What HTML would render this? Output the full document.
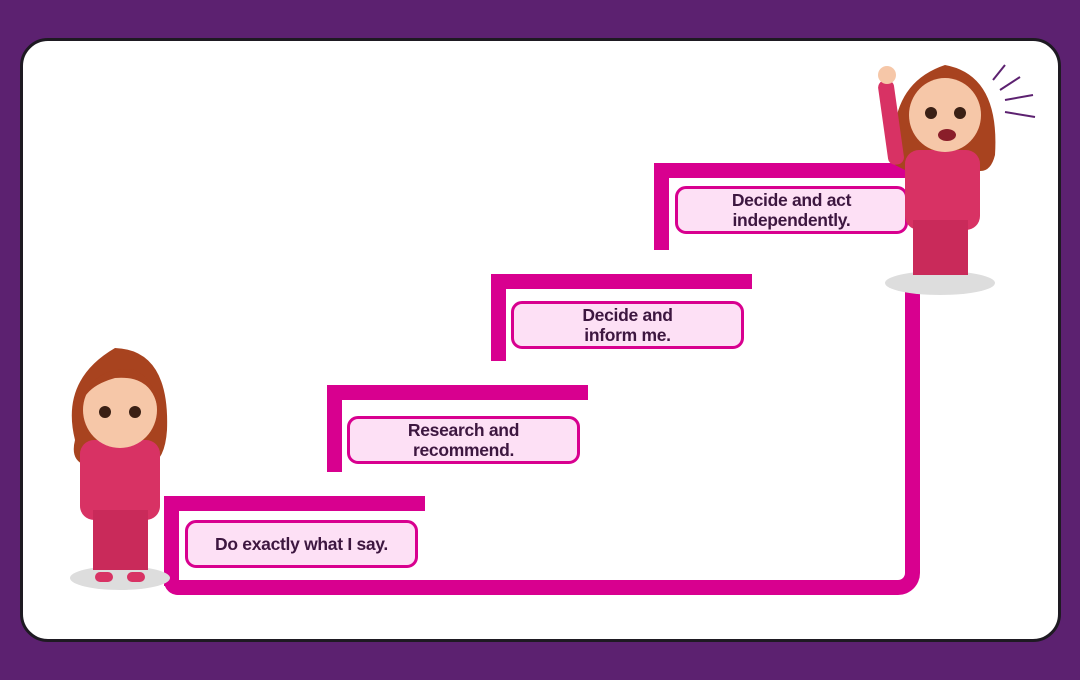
<!DOCTYPE html>
<html><head><style>
body{margin:0;width:1080px;height:680px;background:#5c2170;position:relative;overflow:hidden;font-family:"Liberation Sans",sans-serif}
.card{position:absolute;left:20px;top:38px;width:1035px;height:598px;background:#fff;border:3px solid #1e1a22;border-radius:28px}
.r{position:absolute;background:#d8008f}
.b{position:absolute;width:227px;height:42px;border:3px solid #d8008f;background:#fde0f5;border-radius:11px;color:#3d1740;font-weight:bold;font-size:17.5px;line-height:20px;text-align:center;display:flex;align-items:center;justify-content:center;letter-spacing:-0.3px}
</style></head><body>
<div class="card"></div>
<!-- step 1 -->
<div class="r" style="left:164px;top:496px;width:261px;height:15px"></div>
<div class="r" style="left:164px;top:496px;width:15px;height:90px"></div>
<div style="position:absolute;left:164px;top:540px;width:756px;height:55px;border:15px solid #d8008f;border-top:none;border-radius:0 0 22px 14px;box-sizing:border-box"></div>
<div class="r" style="left:905px;top:280px;width:15px;height:290px"></div>
<!-- step 2 -->
<div class="r" style="left:327px;top:385px;width:261px;height:15px"></div>
<div class="r" style="left:327px;top:385px;width:15px;height:87px"></div>
<!-- step 3 -->
<div class="r" style="left:491px;top:274px;width:261px;height:15px"></div>
<div class="r" style="left:491px;top:274px;width:15px;height:87px"></div>
<!-- step 4 -->
<div class="r" style="left:654px;top:163px;width:261px;height:15px"></div>
<div class="r" style="left:654px;top:163px;width:15px;height:87px"></div>
<div class="b" style="left:185px;top:520px">Do exactly what I say.</div>
<div class="b" style="left:347px;top:416px">Research and<br>recommend.</div>
<div class="b" style="left:511px;top:301px">Decide and<br>inform me.</div>
<div class="b" style="left:675px;top:186px">Decide and act<br>independently.</div>
<!-- character left -->
<svg style="position:absolute;left:55px;top:340px" width="130" height="255">
<ellipse cx="65" cy="238" rx="50" ry="12" fill="#ddd"/>
<path d="M20 100 Q5 40 60 8 Q115 10 112 90 Q110 120 95 125 L30 125 Q15 120 20 100Z" fill="#a8431f"/>
<rect x="25" y="100" width="80" height="80" rx="14" fill="#d83264"/>
<rect x="38" y="170" width="55" height="60" fill="#c92a5a"/>
<ellipse cx="65" cy="70" rx="37" ry="38" fill="#f6c7a8"/>
<path d="M28 60 Q40 25 80 30 Q100 40 102 65 Q95 35 60 38 Q35 45 28 60Z" fill="#a8431f"/>
<circle cx="50" cy="72" r="6" fill="#3a2015"/><circle cx="80" cy="72" r="6" fill="#3a2015"/>
<rect x="40" y="232" width="18" height="10" rx="5" fill="#d83264"/><rect x="72" y="232" width="18" height="10" rx="5" fill="#d83264"/>
</svg>
<!-- character right -->
<svg style="position:absolute;left:865px;top:55px" width="190" height="240">
<ellipse cx="75" cy="228" rx="55" ry="12" fill="#ddd"/>
<path d="M30 110 Q20 30 80 10 Q135 20 130 100 Q125 120 110 115 L40 115Z" fill="#a8431f"/>
<rect x="40" y="95" width="75" height="80" rx="14" fill="#d83264"/>
<rect x="17" y="25" width="16" height="85" rx="7" fill="#d83264" transform="rotate(-8 25 60)"/>
<circle cx="22" cy="20" r="9" fill="#f6c7a8"/>
<rect x="48" y="165" width="55" height="55" fill="#c92a5a"/>
<ellipse cx="80" cy="60" rx="36" ry="37" fill="#f6c7a8"/>
<circle cx="66" cy="58" r="6" fill="#3a2015"/><circle cx="95" cy="58" r="6" fill="#3a2015"/>
<ellipse cx="82" cy="80" rx="9" ry="6" fill="#8a1e2a"/>
<g stroke="#5c2170" stroke-width="2"><line x1="128" y1="25" x2="140" y2="10"/><line x1="135" y1="35" x2="155" y2="22"/><line x1="140" y1="45" x2="168" y2="40"/><line x1="140" y1="57" x2="170" y2="62"/></g>
</svg>
</body></html>
